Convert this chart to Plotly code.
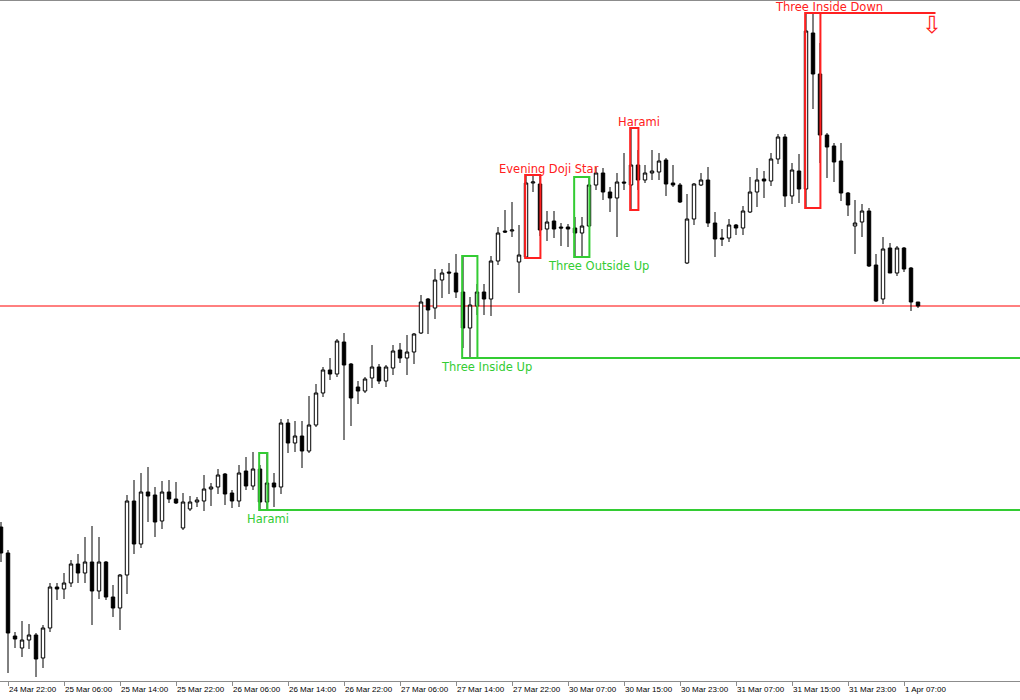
import pandas as pd
import plotly.graph_objects as go

# ---------------- data (hourly bars, weekend gap 27 Mar -> 30 Mar) ----------------
times = (list(pd.date_range("2015-03-24 21:00", "2015-03-27 22:00", freq="h"))
         + list(pd.date_range("2015-03-30 00:00", "2015-04-01 09:00", freq="h")))

open_ = [
    173, 147, 64, 52, 60, 65, 42, 72, 113, 111,
    117, 136, 127, 138, 109, 138, 103, 92, 125, 199,
    156, 208, 205, 179, 208, 201, 172, 191, 198, 199,
    211, 213, 226, 207, 199, 229, 214, 231, 198, 217,
    213, 277, 257, 264, 249, 275, 307, 330, 326, 358,
    336, 313, 309, 322, 333, 319, 332, 350, 342, 348,
    367, 401, 392, 420, 428, 427, 408, 372, 394, 408,
    401, 439, 469, 469, 438, 443, 517, 516, 471, 479,
    473, 473, 472, 467, 474, 515, 527, 508, 502, 518,
    515, 535, 520, 527, 528, 540, 517, 515, 437, 481,
    515, 520, 477, 462, 462, 475, 472, 488, 508, 521,
    519, 541, 563, 504, 529, 511, 667, 626, 565, 554,
    539, 507, 474, 478, 489, 435, 401, 452, 427, 452,
    432, 398,
]
high = [
    178, 150, 68, 79, 76, 67, 75, 117, 117, 127,
    140, 146, 163, 174, 163, 139, 115, 126, 205, 220,
    227, 233, 213, 219, 220, 218, 207, 204, 203, 225,
    217, 231, 227, 210, 235, 243, 248, 235, 247, 227,
    281, 281, 279, 279, 304, 316, 333, 342, 361, 367,
    337, 319, 323, 355, 336, 335, 355, 357, 365, 367,
    405, 402, 431, 431, 437, 446, 444, 403, 416, 416,
    444, 473, 490, 498, 475, 525, 525, 525, 489, 489,
    477, 476, 483, 483, 523, 533, 532, 513, 527, 547,
    572, 550, 535, 550, 547, 542, 535, 517, 506, 517,
    527, 533, 488, 471, 481, 476, 494, 523, 532, 529,
    547, 566, 566, 537, 546, 687, 687, 657, 567, 557,
    557, 508, 500, 496, 492, 446, 463, 457, 454, 453,
    433, 398,
]
low = [
    138, 27, 52, 43, 51, 23, 32, 68, 100, 101,
    113, 117, 117, 75, 101, 100, 83, 70, 106, 146,
    152, 178, 163, 171, 197, 196, 170, 189, 193, 189,
    194, 206, 195, 192, 193, 210, 210, 190, 190, 193,
    206, 247, 248, 232, 247, 273, 303, 320, 323, 260,
    274, 296, 307, 312, 316, 313, 325, 337, 325, 336,
    366, 366, 381, 402, 406, 402, 352, 342, 385, 385,
    384, 435, 467, 463, 407, 442, 508, 464, 459, 462,
    454, 453, 443, 444, 473, 510, 500, 488, 463, 510,
    490, 510, 517, 520, 520, 504, 513, 497, 436, 475,
    514, 473, 443, 454, 458, 465, 465, 487, 493, 502,
    514, 536, 493, 496, 497, 492, 591, 537, 522, 518,
    499, 484, 446, 463, 433, 398, 396, 427, 424, 428,
    389, 392,
]
close = [
    147, 67, 61, 60, 65, 41, 72, 113, 111, 117,
    136, 127, 138, 109, 138, 103, 92, 125, 199, 156,
    208, 204, 178, 208, 201, 197, 198, 198, 200, 211,
    213, 225, 206, 199, 227, 214, 231, 198, 217, 213,
    277, 257, 264, 249, 275, 307, 330, 326, 359, 335,
    302, 309, 321, 333, 319, 333, 349, 342, 348, 366,
    398, 390, 420, 427, 427, 408, 372, 395, 408, 401,
    439, 467, 468, 470, 445, 517, 518, 470, 478, 471,
    472, 471, 467, 474, 515, 527, 508, 502, 518, 517,
    535, 520, 527, 529, 539, 516, 515, 498, 481, 516,
    520, 477, 461, 461, 475, 472, 489, 508, 520, 519,
    541, 563, 504, 530, 511, 669, 626, 565, 553, 538,
    507, 495, 477, 489, 434, 399, 451, 427, 452, 431,
    398, 394,
]

# candlestick patterns: name, first bar, last bar, direction
pattern_names = ["Harami", "Three Inside Up", "Evening Doji Star",
                 "Three Outside Up", "Harami", "Three Inside Down"]
pattern_first = [37, 66, 75, 82, 90, 115]
pattern_last = [38, 68, 77, 84, 91, 117]
pattern_dir = ["bull", "bull", "bear", "bull", "bear", "bear"]
# patterns whose level line is still projected to the right
pattern_extended = [True, True, False, False, False, True]

# ---------------- style ----------------
GREEN = "#33CC33"
RED = "#FF2020"
W, H = 1020, 700
PX = 7.0                      # pixels per bar
X0 = -1 / PX                  # so bar i sits at pixel 1 + 7 i
X1 = X0 + W / PX

x = list(range(len(times)))
tickvals = x[1::8]
ticktext = [f"{t.day} {t.strftime('%b %H:%M')}" for t in times[1::8]]

fig = go.Figure()
fig.add_trace(go.Candlestick(
    x=x, open=open_, high=high, low=low, close=close,
    increasing=dict(line=dict(color="black", width=1), fillcolor="white"),
    decreasing=dict(line=dict(color="black", width=1), fillcolor="black"),
    whiskerwidth=0, hoverinfo="skip", showlegend=False,
))

# current price line
fig.add_shape(type="line", xref="paper", x0=0, x1=1, y0=close[-1], y1=close[-1],
              line=dict(color="#FF0000", width=1), layer="below")

label_offset = {2: 1.14, 3: 3.3}
for name, s, e, d, ext in zip(pattern_names, pattern_first, pattern_last,
                              pattern_dir, pattern_extended):
    lo = min(low[s:e + 1])
    hi = max(high[s:e + 1])
    col = GREEN if d == "bull" else RED
    fig.add_shape(type="rect", x0=s - 0.12, x1=e + 0.06, y0=lo, y1=hi,
                  line=dict(color=col, width=2), fillcolor="rgba(0,0,0,0)")
    n = e - s + 1
    lx = s + label_offset[n]
    if d == "bull":
        fig.add_annotation(x=lx, y=lo, text=name, showarrow=False,
                           xanchor="center", yanchor="top", yshift=0,
                           font=dict(family="DejaVu Sans", size=11.5, color=col))
        if ext:
            fig.add_shape(type="line", x0=e + 0.06, x1=X1, y0=lo, y1=lo,
                          line=dict(color=col, width=2))
    else:
        fig.add_annotation(x=lx, y=hi, text=name, showarrow=False,
                           xanchor="center", yanchor="bottom", yshift=-3,
                           font=dict(family="DejaVu Sans", size=11.5, color=col))
        if ext:
            fig.add_shape(type="line", x0=e + 0.06, x1=len(x) + 1.5, y0=hi, y1=hi,
                          line=dict(color=col, width=2))
            fig.add_annotation(x=len(x) + 1.0, y=hi, text="\u21e9", showarrow=False,
                               xanchor="center", yanchor="middle", yshift=-12,
                               font=dict(family="DejaVu Sans", size=24, color=RED))

fig.update_layout(
    width=W, height=H,
    margin=dict(l=0, r=0, t=1, b=19),
    paper_bgcolor="white", plot_bgcolor="white",
    showlegend=False,
    xaxis=dict(
        range=[X0, X1], showgrid=False, zeroline=False,
        showline=True, mirror=True, linecolor="#8c8c8c", linewidth=1,
        ticks="outside", ticklen=4, tickcolor="#8c8c8c",
        tickvals=tickvals, ticktext=ticktext, tickangle=0,
        ticklabelposition="outside right",
        tickfont=dict(family="Liberation Sans", size=8, color="black"),
        rangeslider=dict(visible=False), automargin=False, fixedrange=True,
    ),
    yaxis=dict(
        range=[19, 699], showgrid=False, zeroline=False, showline=False,
        showticklabels=False, ticks="", automargin=False, fixedrange=True,
    ),
)

fig.write_html("out.html", config={"displayModeBar": False},
               post_script="document.body.style.margin='0';")
